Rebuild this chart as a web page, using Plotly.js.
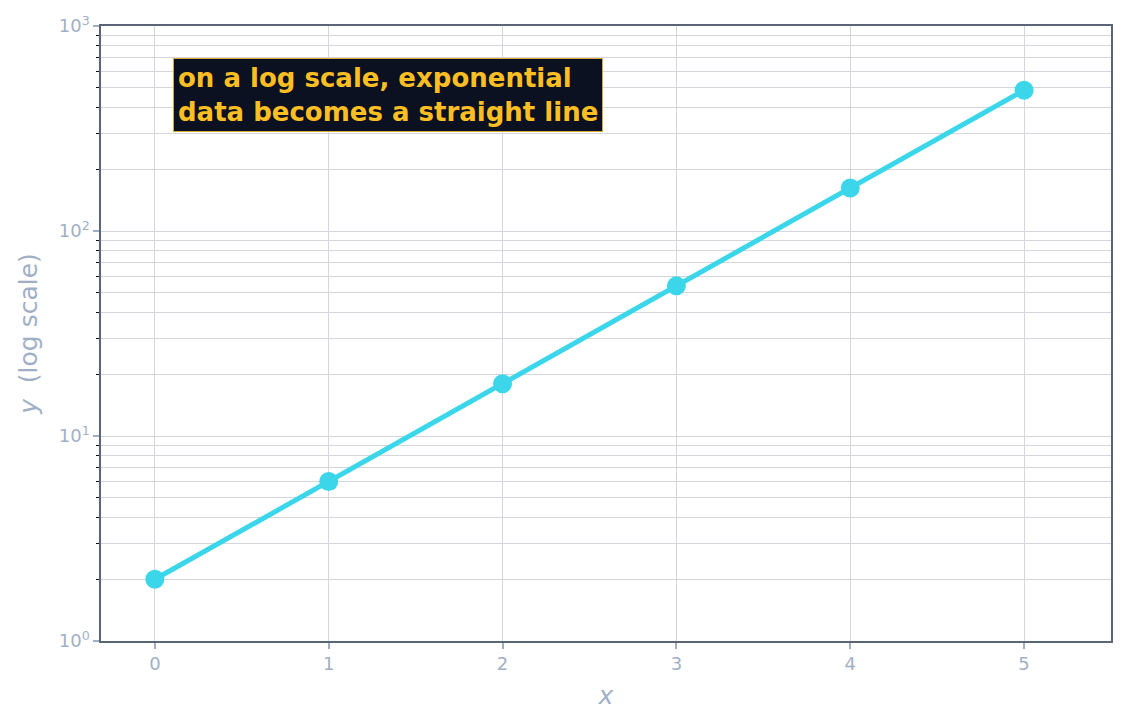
<!DOCTYPE html>
<html>
<head>
<meta charset="utf-8">
<script src="https://cdn.plot.ly/plotly-3.0.1.min.js"></script>
<style>
  html, body { margin: 0; padding: 0; background: #ffffff; }
  #chart { width: 1129px; height: 725px; }
</style>
</head>
<body>
<div id="chart"></div>
<script>
// data
var xs = [0, 1, 2, 3, 4, 5];
var ys = [2, 6, 18, 54, 162, 486];

var majorVals = [1, 10, 100, 1000];
var majorText = ['10<sup>0</sup>', '10<sup>1</sup>', '10<sup>2</sup>', '10<sup>3</sup>'];
var minorVals = [2, 3, 4, 5, 6, 7, 8, 9, 20, 30, 40, 50, 60, 70, 80, 90, 200, 300, 400, 500, 600, 700, 800, 900];

var noteText = 'on a log scale, exponential<br>data becomes a straight line';

var labelColor = '#9fb0c6';
var spineColor = '#5b6578';
var gridColor = '#d3d6dc';

var trace = {
  x: xs,
  y: ys,
  type: 'scatter',
  mode: 'lines+markers',
  line: {color: '#3cd6ea', width: 5},
  marker: {color: '#3cd6ea', size: 19},
  showlegend: false,
  hoverinfo: 'x+y'
};

var layout = {
  width: 1129,
  height: 725,
  margin: {l: 101, r: 18, t: 26, b: 84},
  paper_bgcolor: '#ffffff',
  plot_bgcolor: '#ffffff',
  font: {family: 'DejaVu Sans', color: labelColor, size: 18},
  xaxis: {
    range: [-0.31, 5.5],
    tickvals: xs,
    ticks: 'outside',
    ticklen: 6,
    tickwidth: 1.5,
    tickcolor: labelColor,
    showgrid: true,
    gridcolor: gridColor,
    gridwidth: 0.8,
    zeroline: false,
    showline: true,
    linecolor: spineColor,
    linewidth: 1.5,
    mirror: true,
    tickfont: {size: 18, color: labelColor},
    title: {text: '<i>x</i>', font: {size: 25, color: labelColor}, standoff: 13}
  },
  yaxis: {
    type: 'log',
    range: [0, 3],
    tickmode: 'array',
    tickvals: majorVals,
    ticktext: majorText,
    ticks: 'outside',
    ticklen: 6,
    tickwidth: 1.5,
    tickcolor: labelColor,
    showgrid: true,
    gridcolor: gridColor,
    gridwidth: 0.8,
    zeroline: false,
    showline: true,
    linecolor: spineColor,
    linewidth: 1.5,
    mirror: true,
    tickfont: {size: 18, color: labelColor},
    minor: {
      tickmode: 'array',
      tickvals: minorVals,
      ticks: 'outside',
      ticklen: 3.5,
      tickwidth: 1,
      tickcolor: '#111111',
      showgrid: true,
      gridcolor: gridColor,
      gridwidth: 0.8
    },
    title: {text: '<i>y</i>  (log scale)', font: {size: 25, color: labelColor}, standoff: 14}
  },
  annotations: [{
    xref: 'paper',
    yref: 'paper',
    x: 0.071,
    y: 0.948,
    xanchor: 'left',
    yanchor: 'top',
    align: 'left',
    showarrow: false,
    text: '<b>' + noteText + '</b>',
    font: {family: 'DejaVu Sans', size: 26, color: '#fbbf24'},
    bgcolor: '#0b1120',
    bordercolor: '#d9a93a',
    borderwidth: 1,
    borderpad: 4
  }]
};

Plotly.newPlot('chart', [trace], layout, {displayModeBar: false});
</script>
</body>
</html>
